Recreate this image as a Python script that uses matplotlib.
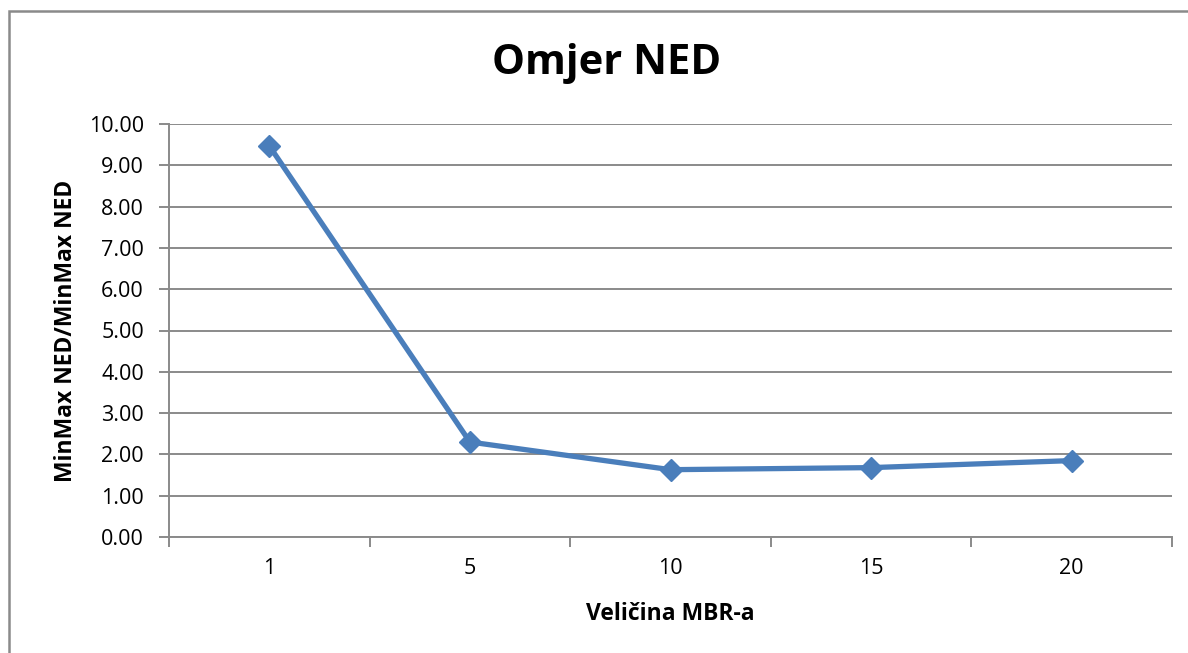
import numpy as np
import matplotlib.pyplot as plt
from matplotlib.patches import Rectangle

# velicine MBR-a i omjer NED
kategorije = ["1", "5", "10", "15", "20"]
omjer = [9.47, 2.30, 1.63, 1.68, 1.85]
y_ticks = [0, 1, 2, 3, 4, 5, 6, 7, 8, 9, 10]

plt.rcParams['font.family'] = ['Open Sans', 'DejaVu Sans']

fig = plt.figure(figsize=(11.88, 6.53), dpi=100)
ax = fig.add_axes([169 / 1188, 1 - 537 / 653, (1172 - 169) / 1188, (537 - 124) / 653])

# okvir oko cijelog grafa
fig.patches.append(Rectangle((9 / 1188, -0.05), 1.2, 1 - 11 / 653 + 0.05,
                             transform=fig.transFigure, fill=False,
                             edgecolor="#8a8a8a", linewidth=1.8))

x = np.arange(len(kategorije))
ax.plot(x, omjer, color="#4a7ebb", linewidth=3.8, marker="D",
        markersize=11, markerfacecolor="#4a7ebb", markeredgecolor="#4a7ebb",
        zorder=3)

ax.set_xlim(-0.5, len(kategorije) - 0.5)
ax.set_ylim(0, 10)

ax.set_yticks(y_ticks)
ax.set_yticklabels(["%.2f" % v for v in y_ticks])
ax.yaxis.grid(True, color="#8a8a8a", linewidth=1.4)
ax.set_axisbelow(True)

# crtice na granicama kategorija, oznake u sredini
ax.set_xticks(np.arange(-0.5, len(kategorije), 1.0))
ax.set_xticklabels([])
ax.set_xticks(x, minor=True)
ax.set_xticklabels(kategorije, minor=True)
ax.tick_params(axis="x", which="major", direction="out", length=7,
               width=1.4, color="#8a8a8a")
ax.tick_params(axis="x", which="minor", length=0, pad=15, labelsize=15.5)
ax.tick_params(axis="y", direction="out", length=7, width=1.4,
               color="#8a8a8a", pad=11, labelsize=15.5)

for s in ["top", "right"]:
    ax.spines[s].set_visible(False)
for s in ["left", "bottom"]:
    ax.spines[s].set_color("#8a8a8a")
    ax.spines[s].set_linewidth(1.4)

fig.text(607 / 1188, 1 - 64 / 653, "Omjer NED", fontsize=30, fontweight="bold",
         ha="center", va="center")
ax.set_xlabel("Veličina MBR-a", fontsize=16.5, fontweight="bold", labelpad=17)
ax.set_ylabel("MinMax NED/MinMax NED", fontsize=16.5, fontweight="bold",
              labelpad=8)

fig.savefig("out.png", dpi=100)
